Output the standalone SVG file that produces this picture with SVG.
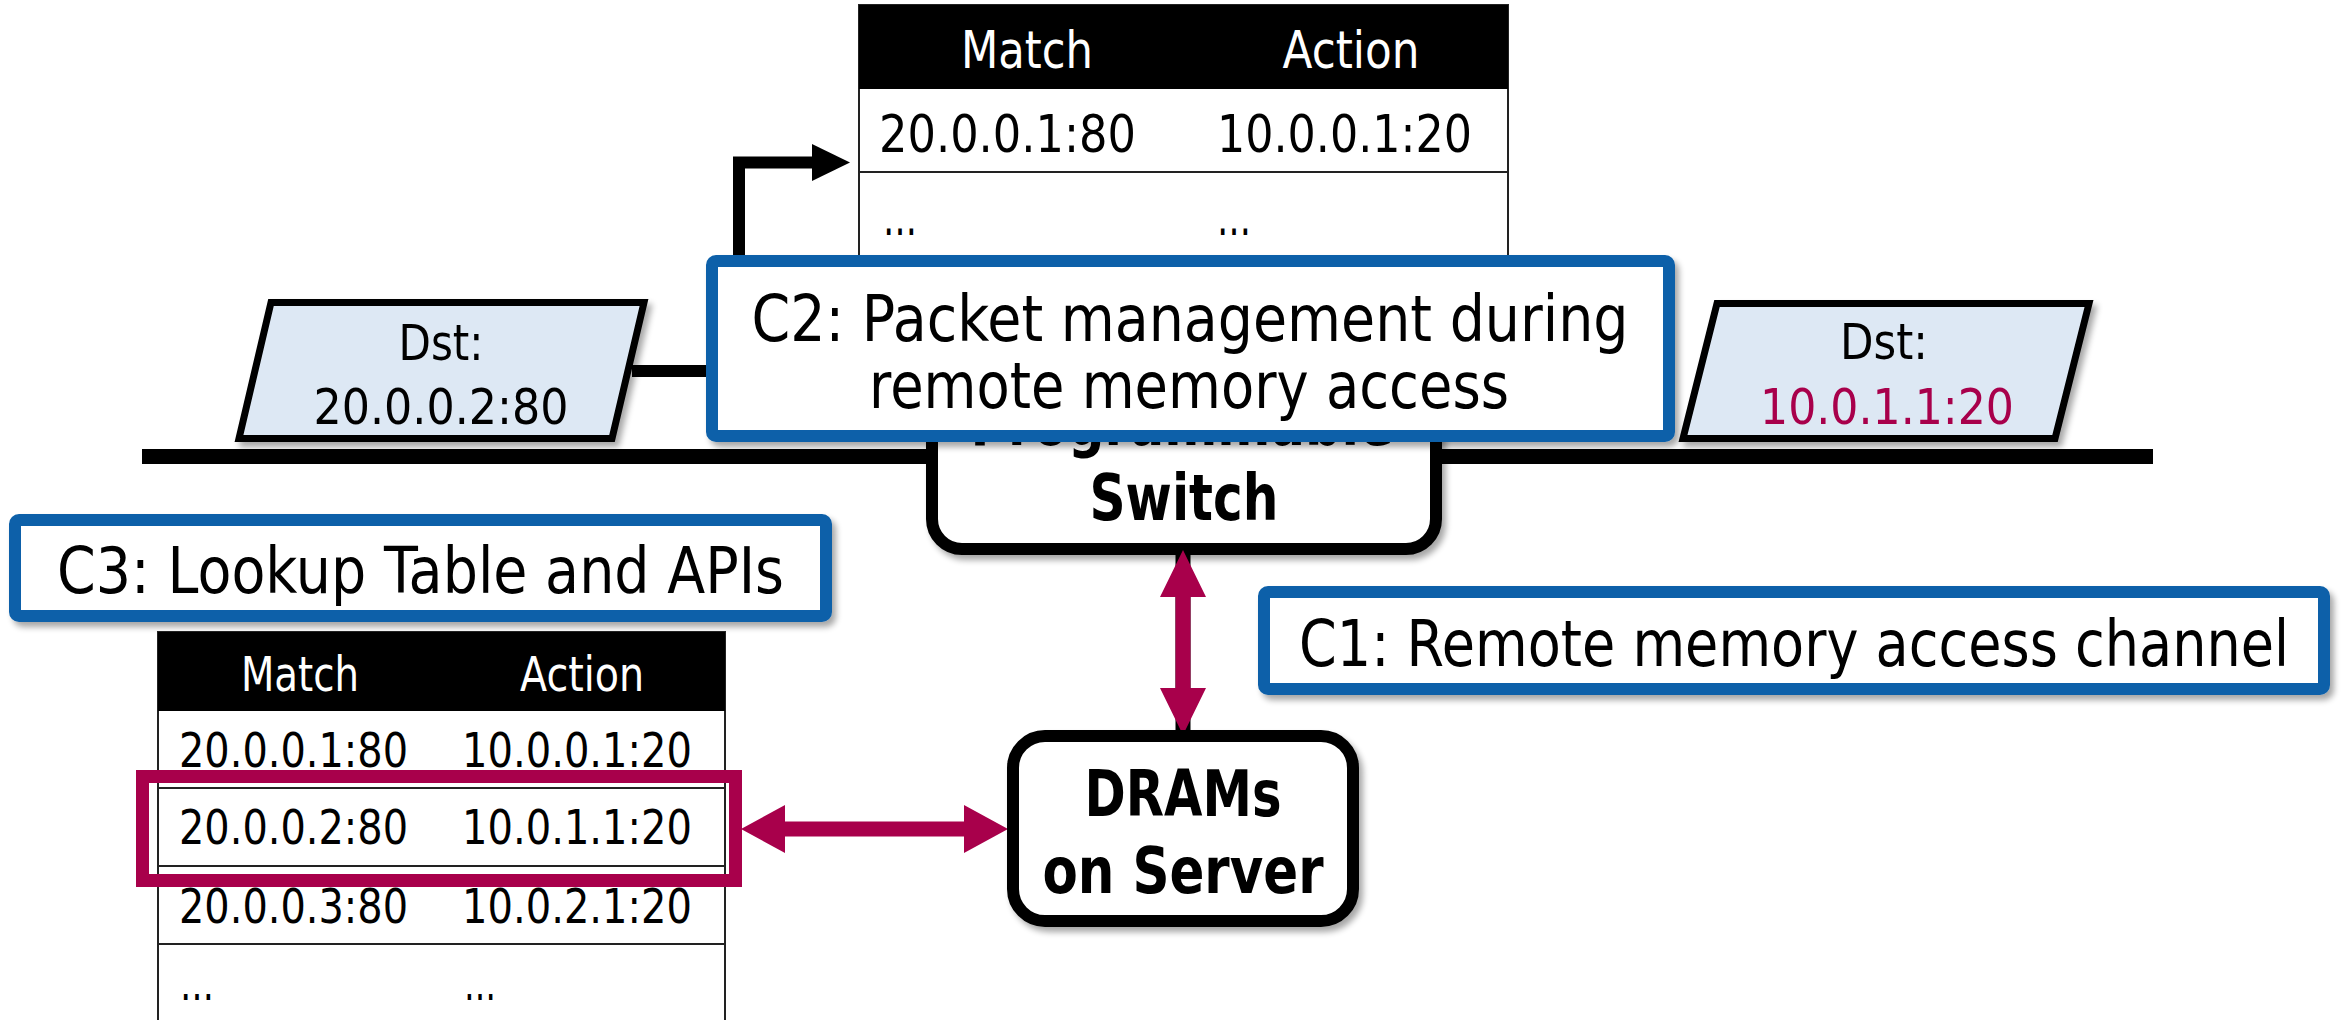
<svg xmlns="http://www.w3.org/2000/svg" width="2343" height="1020" viewBox="0 0 2343 1020">
  <defs>
    <filter id="shadow" x="-10%" y="-20%" width="130%" height="150%">
      <feGaussianBlur in="SourceAlpha" stdDeviation="3"/>
      <feOffset dx="4" dy="5" result="b"/>
      <feComponentTransfer><feFuncA type="linear" slope="0.35"/></feComponentTransfer>
      <feMerge><feMergeNode/><feMergeNode in="SourceGraphic"/></feMerge>
    </filter>
  </defs>
  <style>
    text { font-family: "DejaVu Sans", Verdana, sans-serif; }
    .t { font-size: 52px; fill: #000; }
    .ts { font-size: 48px; fill: #000; }
    .hdr { fill: #fff; }
    .pk { font-size: 50px; fill: #000; }
    .cl { font-size: 64px; fill: #000; }
    .bd { font-size: 64px; font-weight: bold; fill: #000; }
    .mag { fill: #A8004B; }
    .callout { fill: #fff; stroke: #0B60A9; stroke-width: 12; }
    .node { fill: #fff; stroke: #000; stroke-width: 12; }
    .packet { fill: #DDE8F4; stroke: #000; stroke-width: 7; stroke-linejoin: miter; }
    .row { stroke: #222; stroke-width: 2; }
  </style>

  <!-- network wire -->
  <rect id="wire" x="142" y="449" width="2011" height="15" fill="#000"/>

  <!-- programmable switch -->
  <g id="switch" filter="url(#shadow)">
    <rect class="node" x="932" y="340" width="504" height="209" rx="30"/>
    <text class="bd" x="1182" y="445" text-anchor="middle" textLength="423" lengthAdjust="spacingAndGlyphs">Programmable</text>
    <text class="bd" x="1184" y="520" text-anchor="middle" textLength="189" lengthAdjust="spacingAndGlyphs">Switch</text>
  </g>

  <!-- connectors -->
  <g id="connectors">
    <!-- packet to switch table -->
    <polyline points="632,371 739,371 739,162.5 815,162.5" fill="none" stroke="#000" stroke-width="12"/>
    <polygon points="812,144 850,162.5 812,181" fill="#000"/>
    <!-- switch to DRAMs -->
    <rect x="1175.5" y="550" width="15" height="185" fill="#000"/>
    <polygon class="mag" points="1183,550 1206,597 1190.5,597 1190.5,688 1206,688 1183,735 1160,688 1175.5,688 1175.5,597 1160,597"/>
    <!-- lookup entry to DRAMs -->
    <polygon class="mag" points="741,829 785,805 785,821.5 964,821.5 964,805 1008,829 964,853 964,836.5 785,836.5 785,853"/>
  </g>

  <!-- match-action table on the switch -->
  <g id="switch-table">
    <rect x="859" y="5" width="649" height="270" fill="#fff" stroke="#222" stroke-width="2"/>
    <rect x="859" y="5" width="649" height="84" fill="#000"/>
    <line class="row" x1="859" y1="172" x2="1508" y2="172"/>
    <text class="t hdr" x="1027" y="68" text-anchor="middle" textLength="132" lengthAdjust="spacingAndGlyphs">Match</text>
    <text class="t hdr" x="1351" y="68" text-anchor="middle" textLength="137" lengthAdjust="spacingAndGlyphs">Action</text>
    <text class="t" x="879" y="152" textLength="257" lengthAdjust="spacingAndGlyphs">20.0.0.1:80</text>
    <text class="t" x="1217" y="152" textLength="255" lengthAdjust="spacingAndGlyphs">10.0.0.1:20</text>
    <text class="t" x="883" y="235" textLength="34" lengthAdjust="spacingAndGlyphs">…</text>
    <text class="t" x="1217" y="235" textLength="34" lengthAdjust="spacingAndGlyphs">…</text>
  </g>

  <!-- challenge 2 -->
  <g id="c2" filter="url(#shadow)">
    <rect class="callout" x="712" y="261" width="957" height="175" rx="4"/>
    <text class="cl" x="1190" y="341" text-anchor="middle" textLength="877" lengthAdjust="spacingAndGlyphs">C2: Packet management during</text>
    <text class="cl" x="1189" y="408" text-anchor="middle" textLength="640" lengthAdjust="spacingAndGlyphs">remote memory access</text>
  </g>

  <!-- incoming packet -->
  <g id="packet-in" filter="url(#shadow)">
    <polygon class="packet" points="271,302.5 644,302.5 612,438.5 239,438.5"/>
    <text class="pk" x="441" y="360" text-anchor="middle" textLength="85" lengthAdjust="spacingAndGlyphs">Dst:</text>
    <text class="pk" x="441" y="424" text-anchor="middle" textLength="255" lengthAdjust="spacingAndGlyphs">20.0.0.2:80</text>
  </g>

  <!-- rewritten packet -->
  <g id="packet-out" filter="url(#shadow)">
    <polygon class="packet" points="1717,303.5 2089,303.5 2055,438.5 1683,438.5"/>
    <text class="pk" x="1884" y="359" text-anchor="middle" textLength="88" lengthAdjust="spacingAndGlyphs">Dst:</text>
    <text class="pk mag" x="1887" y="424" text-anchor="middle" textLength="254" lengthAdjust="spacingAndGlyphs">10.0.1.1:20</text>
  </g>

  <!-- challenge 3 -->
  <g id="c3" filter="url(#shadow)">
    <rect class="callout" x="15" y="520" width="811" height="96" rx="4"/>
    <text class="cl" x="57" y="593" textLength="727" lengthAdjust="spacingAndGlyphs">C3: Lookup Table and APIs</text>
  </g>

  <!-- challenge 1 -->
  <g id="c1" filter="url(#shadow)">
    <rect class="callout" x="1264" y="592" width="1060" height="97" rx="4"/>
    <text class="cl" x="1299" y="666" textLength="990" lengthAdjust="spacingAndGlyphs">C1: Remote memory access channel</text>
  </g>

  <!-- lookup table in server memory -->
  <g id="lookup-table">
    <rect x="158" y="632" width="567" height="400" fill="#fff" stroke="#222" stroke-width="2"/>
    <rect x="158" y="632" width="567" height="79" fill="#000"/>
    <line class="row" x1="158" y1="788" x2="725" y2="788"/>
    <line class="row" x1="158" y1="866" x2="725" y2="866"/>
    <line class="row" x1="158" y1="944" x2="725" y2="944"/>
    <text class="ts hdr" x="300" y="691" text-anchor="middle" textLength="118" lengthAdjust="spacingAndGlyphs">Match</text>
    <text class="ts hdr" x="582" y="691" text-anchor="middle" textLength="124" lengthAdjust="spacingAndGlyphs">Action</text>
    <text class="ts" x="179" y="767" textLength="229" lengthAdjust="spacingAndGlyphs">20.0.0.1:80</text>
    <text class="ts" x="462" y="767" textLength="230" lengthAdjust="spacingAndGlyphs">10.0.0.1:20</text>
    <text class="ts" x="179" y="844" textLength="229" lengthAdjust="spacingAndGlyphs">20.0.0.2:80</text>
    <text class="ts" x="462" y="844" textLength="230" lengthAdjust="spacingAndGlyphs">10.0.1.1:20</text>
    <text class="ts" x="179" y="923" textLength="229" lengthAdjust="spacingAndGlyphs">20.0.0.3:80</text>
    <text class="ts" x="462" y="923" textLength="230" lengthAdjust="spacingAndGlyphs">10.0.2.1:20</text>
    <text class="ts" x="180" y="1000" textLength="34" lengthAdjust="spacingAndGlyphs">…</text>
    <text class="ts" x="464" y="1000" textLength="32" lengthAdjust="spacingAndGlyphs">…</text>
    <!-- highlighted entry -->
    <rect x="142.5" y="776.5" width="593" height="104" fill="none" stroke="#A8004B" stroke-width="13"/>
  </g>

  <!-- server DRAM -->
  <g id="drams" filter="url(#shadow)">
    <rect class="node" x="1013" y="736" width="340" height="185" rx="32"/>
    <text class="bd" x="1183" y="816" text-anchor="middle" textLength="197" lengthAdjust="spacingAndGlyphs">DRAMs</text>
    <text class="bd" x="1183" y="893" text-anchor="middle" textLength="281" lengthAdjust="spacingAndGlyphs">on Server</text>
  </g>
</svg>
